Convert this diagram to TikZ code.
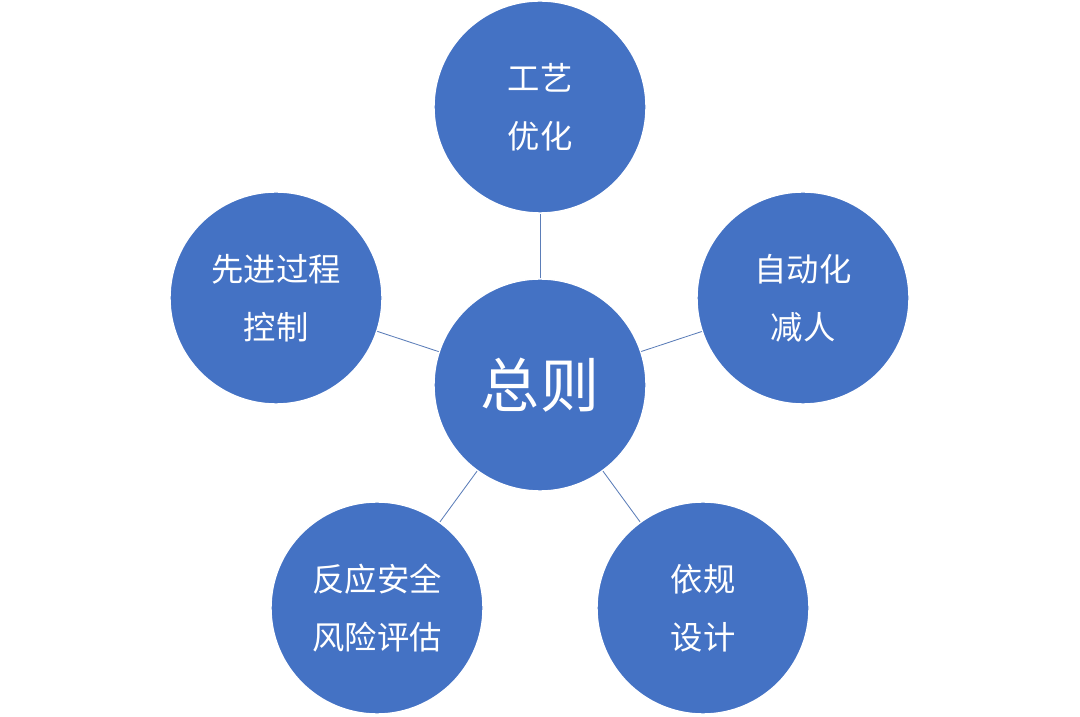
\documentclass[tikz,border=0pt]{standalone}
\usepackage{fontspec}
\newfontfamily\cjk{Noto Sans CJK SC}
\usetikzlibrary{positioning}
\definecolor{ballblue}{HTML}{4472C4}
\definecolor{linkblue}{HTML}{5B7DB8}
\tikzset{
  ball/.style={circle, fill=ballblue, draw=white, line width=1pt, minimum size=5.3cm,
    text=white, align=center, font=\cjk\fontsize{23}{41}\selectfont},
  link/.style={draw=linkblue, line width=0.6pt}
}
\begin{document}
\begin{tikzpicture}
  \useasboundingbox (0,0) rectangle (27,17.9);
  % Hub
  \node[ball, font=\cjk\fontsize{42}{50}\selectfont] (hub) at (13.5,8.275) {总则};
  % Spokes
  \node[ball] (craft) at (13.5,15.225) {工艺\\优化};
  \node[ball] (auto) at (20.075,10.45) {自动化\\减人};
  \node[ball] (apc) at (6.9,10.45) {先进过程\\控制};
  \node[ball] (risk) at (9.425,2.7) {反应安全\\风险评估};
  \node[ball] (rule) at (17.575,2.7) {依规\\设计};
  % Links
  \foreach \n in {craft,auto,apc,risk,rule}
    \draw[link] (hub) -- (\n);
\end{tikzpicture}
\end{document}
